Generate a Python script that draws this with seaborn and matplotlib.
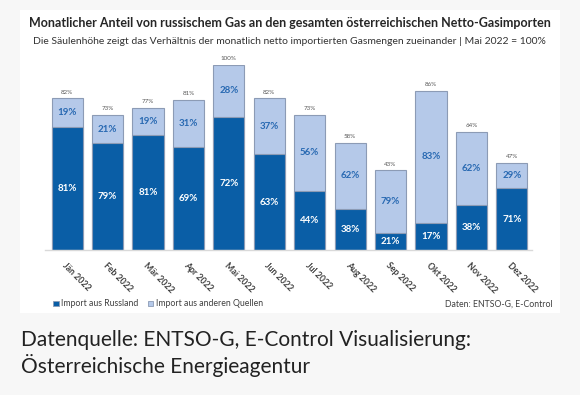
import matplotlib
matplotlib.use("Agg")
import matplotlib.pyplot as plt
import matplotlib.patches as mpatches
import seaborn as sns
import pandas as pd

months = ["Jän 2022", "Feb 2022", "Mär 2022", "Apr 2022", "Mai 2022", "Jun 2022",
          "Jul 2022", "Aug 2022", "Sep 2022", "Okt 2022", "Nov 2022", "Dez 2022"]
total_pct = [82, 73, 77, 81, 100, 82, 73, 58, 43, 86, 64, 47]
russia_share = [81, 79, 81, 69, 72, 63, 44, 38, 21, 17, 38, 71]
other_share = [19, 21, 19, 31, 28, 37, 56, 62, 79, 83, 62, 29]

title = "Monatlicher Anteil von russischem Gas an den gesamten österreichischen Netto-Gasimporten"
subtitle = "Die Säulenhöhe zeigt das Verhältnis der monatlich netto importierten Gasmengen zueinander | Mai 2022 = 100%"
legend_labels = ["Import aus Russland", "Import aus anderen Quellen"]
source_note = "Daten: ENTSO-G, E-Control"
caption_lines = ["Datenquelle: ENTSO-G, E-Control Visualisierung:", "Österreichische Energieagentur"]

DARK = "#0A5EA6"
LIGHT = "#B5C9E9"
EDGE = "#8C9BB5"
LIGHT_TXT = "#2869B2"

df = pd.DataFrame({
    "month": months,
    "total": total_pct,
    "russia": [t * s / 100 for t, s in zip(total_pct, russia_share)],
})

sns.set_theme(style="white")
plt.rcParams["font.family"] = ["Lato", "DejaVu Sans"]

W, H = 580, 395
fig = plt.figure(figsize=(W / 100, H / 100), dpi=100, facecolor="#F7F7F7")

# white panel
fig.patches.append(mpatches.Rectangle((20 / W, 1 - 313 / H), 540 / W, 303 / H,
                                      transform=fig.transFigure, facecolor="white",
                                      edgecolor="none", zorder=-5))

ax = fig.add_axes([45 / W, 1 - 250 / H, 487 / W, 185 / H])
ax.set_zorder(3)
ax.set_facecolor("none")

sns.barplot(data=df, x="month", y="total", color=LIGHT, saturation=1, width=0.77,
            edgecolor=EDGE, linewidth=0.8, ax=ax)
sns.barplot(data=df, x="month", y="russia", color=DARK, saturation=1, width=0.77,
            edgecolor=EDGE, linewidth=0.8, ax=ax)

ax.set_xlim(-0.55, 11.5)
ax.set_ylim(0, 100)
ax.set_xlabel("")
ax.set_ylabel("")
ax.set_yticks([])
for s in ["left", "right", "top"]:
    ax.spines[s].set_visible(False)
ax.spines["bottom"].set_color("#D9D9D9")
ax.spines["bottom"].set_linewidth(1.0)
ax.tick_params(axis="x", length=0, pad=8)
ax.set_xticks(range(len(months)))
ax.set_xticklabels(months, rotation=-45, ha="left", rotation_mode="anchor",
                   fontsize=6.3, fontweight="bold", color="#404040")

for i, (t, rs, os_) in enumerate(zip(total_pct, russia_share, other_share)):
    r = t * rs / 100
    ax.text(i, r / 2, f"{rs}%", ha="center", va="center", color="white",
            fontsize=7.0, fontweight="bold")
    ax.text(i, (r + t) / 2, f"{os_}%", ha="center", va="center", color=LIGHT_TXT,
            fontsize=7.0, fontweight="bold")
    ax.text(i, t + 2.0, f"{t}%", ha="center", va="bottom", color="#595959",
            fontsize=4.5, clip_on=False)

fig.text(290 / W, 1 - 23 / H, title, ha="center", va="center", fontsize=9.0,
         fontweight="bold", color="#262626")
fig.text(289 / W, 1 - 42 / H, subtitle, ha="center", va="center", fontsize=7.5,
         color="#333333")

handles = [mpatches.Patch(facecolor=DARK, edgecolor=EDGE, linewidth=0.6),
           mpatches.Patch(facecolor=LIGHT, edgecolor=EDGE, linewidth=0.6)]
fig.legend(handles, legend_labels, loc="center left", bbox_to_anchor=(49 / W, 1 - 304 / H),
           ncol=2, frameon=False, fontsize=6.3, handlelength=0.6, handleheight=0.6,
           handletextpad=0.3, columnspacing=1.1, labelcolor="#404040", borderpad=0)
fig.text(553 / W, 1 - 304 / H, source_note, ha="right", va="center", fontsize=6.3,
         color="#404040")

fig.text(21 / W, 1 - 346 / H, caption_lines[0], ha="left", va="baseline", fontsize=15,
         color="#222222", family=["Lato", "DejaVu Sans"])
fig.text(21 / W, 1 - 373 / H, caption_lines[1], ha="left", va="baseline", fontsize=15,
         color="#222222", family=["Lato", "DejaVu Sans"])

fig.savefig("out.png", dpi=100, facecolor=fig.get_facecolor())
